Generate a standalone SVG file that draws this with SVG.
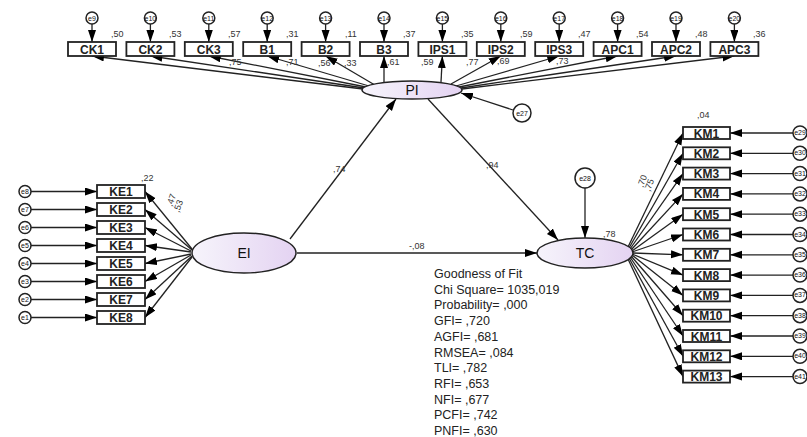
<svg xmlns="http://www.w3.org/2000/svg" width="807" height="437" viewBox="0 0 807 437">
<defs>
<marker id="ah" markerUnits="userSpaceOnUse" markerWidth="13" markerHeight="9" refX="12" refY="4" orient="auto">
<path d="M0,0 L12,4 L0,8 z" fill="#000"/>
</marker>
<linearGradient id="lg" x1="0" y1="0" x2="1" y2="0">
<stop offset="0" stop-color="#f6f4fb"/>
<stop offset="1" stop-color="#e4d3f2"/>
</linearGradient>
<style>
.box{fill:#fff;stroke:#222;stroke-width:1.8}
.lat{fill:url(#lg);stroke:#222;stroke-width:1.5}
.err{fill:#fff;stroke:#222;stroke-width:1.5}
.t{font-family:"Liberation Sans",Arial,sans-serif;font-size:12px;font-weight:bold;fill:#222;text-anchor:middle}
.lt{font-family:"Liberation Sans",Arial,sans-serif;font-size:14px;fill:#111;text-anchor:middle}
.e{font-family:"Liberation Sans",Arial,sans-serif;font-size:7px;fill:#111;text-anchor:middle}
.v{font-family:"Liberation Sans",Arial,sans-serif;font-size:9px;fill:#333}
.fit{font-family:"Liberation Sans",Arial,sans-serif;font-size:12.5px;fill:#222}
.c{stroke:#222;stroke-width:1.3;fill:none;marker-end:url(#ah)}
</style>
</defs>
<rect width="807" height="437" fill="#fff"/>

<g id="connectors">
<line class="c" x1="92" y1="24" x2="92" y2="42"/>
<line class="c" x1="150.4" y1="24" x2="150.4" y2="42"/>
<line class="c" x1="208.8" y1="24" x2="208.8" y2="42"/>
<line class="c" x1="267.2" y1="24" x2="267.2" y2="42"/>
<line class="c" x1="325.6" y1="24" x2="325.6" y2="42"/>
<line class="c" x1="384" y1="24" x2="384" y2="42"/>
<line class="c" x1="442.4" y1="24" x2="442.4" y2="42"/>
<line class="c" x1="500.8" y1="24" x2="500.8" y2="42"/>
<line class="c" x1="559.2" y1="24" x2="559.2" y2="42"/>
<line class="c" x1="617.6" y1="24" x2="617.6" y2="42"/>
<line class="c" x1="676" y1="24" x2="676" y2="42"/>
<line class="c" x1="734.4" y1="24" x2="734.4" y2="42"/>
<line class="c" x1="363" y1="89" x2="92" y2="56"/>
<line class="c" x1="364" y1="88" x2="150.4" y2="56"/>
<line class="c" x1="366" y1="87" x2="208.8" y2="56"/>
<line class="c" x1="369" y1="86" x2="267.2" y2="56"/>
<line class="c" x1="374" y1="84.5" x2="325.6" y2="56"/>
<line class="c" x1="384" y1="82.5" x2="384" y2="56"/>
<line class="c" x1="441" y1="82" x2="442.4" y2="56"/>
<line class="c" x1="451" y1="84" x2="500.8" y2="56"/>
<line class="c" x1="456" y1="86" x2="559.2" y2="56"/>
<line class="c" x1="459" y1="87" x2="617.6" y2="56"/>
<line class="c" x1="461" y1="88" x2="676" y2="56"/>
<line class="c" x1="462" y1="89" x2="734.4" y2="56"/>
<line class="c" x1="513" y1="110" x2="461" y2="93"/>
<line class="c" x1="31" y1="191.5" x2="97" y2="191.5"/>
<line class="c" x1="31" y1="209.5" x2="97" y2="209.5"/>
<line class="c" x1="31" y1="227.5" x2="97" y2="227.5"/>
<line class="c" x1="31" y1="245.5" x2="97" y2="245.5"/>
<line class="c" x1="31" y1="263.5" x2="97" y2="263.5"/>
<line class="c" x1="31" y1="281.5" x2="97" y2="281.5"/>
<line class="c" x1="31" y1="299.5" x2="97" y2="299.5"/>
<line class="c" x1="31" y1="317.5" x2="97" y2="317.5"/>
<line class="c" x1="192" y1="249" x2="145" y2="191.5"/>
<line class="c" x1="192" y1="250" x2="145" y2="209.5"/>
<line class="c" x1="191" y1="251" x2="145" y2="227.5"/>
<line class="c" x1="191" y1="252" x2="145" y2="245.5"/>
<line class="c" x1="191" y1="254" x2="145" y2="263.5"/>
<line class="c" x1="191" y1="255" x2="145" y2="281.5"/>
<line class="c" x1="192" y1="256" x2="145" y2="299.5"/>
<line class="c" x1="192" y1="257" x2="145" y2="317.5"/>
<line class="c" x1="290" y1="239" x2="396" y2="99"/>
<line class="c" x1="428" y1="99" x2="558" y2="240"/>
<line class="c" x1="297" y1="253" x2="537" y2="253"/>
<line class="c" x1="585" y1="188" x2="585" y2="238"/>
<line class="c" x1="628" y1="247" x2="683" y2="133"/>
<line class="c" x1="629" y1="248" x2="683" y2="153.3"/>
<line class="c" x1="630" y1="249" x2="683" y2="173.6"/>
<line class="c" x1="631" y1="250" x2="683" y2="193.9"/>
<line class="c" x1="632" y1="251" x2="683" y2="214.2"/>
<line class="c" x1="632" y1="252" x2="683" y2="234.5"/>
<line class="c" x1="633" y1="253" x2="683" y2="254.8"/>
<line class="c" x1="632" y1="254" x2="683" y2="275.1"/>
<line class="c" x1="632" y1="255" x2="683" y2="295.4"/>
<line class="c" x1="631" y1="256" x2="683" y2="315.7"/>
<line class="c" x1="630" y1="257" x2="683" y2="336"/>
<line class="c" x1="629" y1="258" x2="683" y2="356.3"/>
<line class="c" x1="628" y1="259" x2="683" y2="376.6"/>
<line class="c" x1="793" y1="133" x2="730" y2="133"/>
<line class="c" x1="793" y1="153.3" x2="730" y2="153.3"/>
<line class="c" x1="793" y1="173.6" x2="730" y2="173.6"/>
<line class="c" x1="793" y1="193.9" x2="730" y2="193.9"/>
<line class="c" x1="793" y1="214.2" x2="730" y2="214.2"/>
<line class="c" x1="793" y1="234.5" x2="730" y2="234.5"/>
<line class="c" x1="793" y1="254.8" x2="730" y2="254.8"/>
<line class="c" x1="793" y1="275.1" x2="730" y2="275.1"/>
<line class="c" x1="793" y1="295.4" x2="730" y2="295.4"/>
<line class="c" x1="793" y1="315.7" x2="730" y2="315.7"/>
<line class="c" x1="793" y1="336" x2="730" y2="336"/>
<line class="c" x1="793" y1="356.3" x2="730" y2="356.3"/>
<line class="c" x1="793" y1="376.6" x2="730" y2="376.6"/>
</g>

<g id="CK1"><rect class="box" x="68" y="42" width="48" height="14"/><text class="t" x="92" y="53.5">CK1</text></g>
<g id="CK2"><rect class="box" x="126.4" y="42" width="48" height="14"/><text class="t" x="150.4" y="53.5">CK2</text></g>
<g id="CK3"><rect class="box" x="184.8" y="42" width="48" height="14"/><text class="t" x="208.8" y="53.5">CK3</text></g>
<g id="B1"><rect class="box" x="243.2" y="42" width="48" height="14"/><text class="t" x="267.2" y="53.5">B1</text></g>
<g id="B2"><rect class="box" x="301.6" y="42" width="48" height="14"/><text class="t" x="325.6" y="53.5">B2</text></g>
<g id="B3"><rect class="box" x="360" y="42" width="48" height="14"/><text class="t" x="384" y="53.5">B3</text></g>
<g id="IPS1"><rect class="box" x="418.4" y="42" width="48" height="14"/><text class="t" x="442.4" y="53.5">IPS1</text></g>
<g id="IPS2"><rect class="box" x="476.8" y="42" width="48" height="14"/><text class="t" x="500.8" y="53.5">IPS2</text></g>
<g id="IPS3"><rect class="box" x="535.2" y="42" width="48" height="14"/><text class="t" x="559.2" y="53.5">IPS3</text></g>
<g id="APC1"><rect class="box" x="593.6" y="42" width="48" height="14"/><text class="t" x="617.6" y="53.5">APC1</text></g>
<g id="APC2"><rect class="box" x="652" y="42" width="48" height="14"/><text class="t" x="676" y="53.5">APC2</text></g>
<g id="APC3"><rect class="box" x="710.4" y="42" width="48" height="14"/><text class="t" x="734.4" y="53.5">APC3</text></g>

<g id="e9"><circle class="err" cx="92" cy="18" r="6"/><text class="e" x="92" y="20.5">e9</text></g>
<g id="e10"><circle class="err" cx="150.4" cy="18" r="6"/><text class="e" x="150.4" y="20.5">e10</text></g>
<g id="e11"><circle class="err" cx="208.8" cy="18" r="6"/><text class="e" x="208.8" y="20.5">e11</text></g>
<g id="e12"><circle class="err" cx="267.2" cy="18" r="6"/><text class="e" x="267.2" y="20.5">e12</text></g>
<g id="e13"><circle class="err" cx="325.6" cy="18" r="6"/><text class="e" x="325.6" y="20.5">e13</text></g>
<g id="e14"><circle class="err" cx="384" cy="18" r="6"/><text class="e" x="384" y="20.5">e14</text></g>
<g id="e15"><circle class="err" cx="442.4" cy="18" r="6"/><text class="e" x="442.4" y="20.5">e15</text></g>
<g id="e16"><circle class="err" cx="500.8" cy="18" r="6"/><text class="e" x="500.8" y="20.5">e16</text></g>
<g id="e17"><circle class="err" cx="559.2" cy="18" r="6"/><text class="e" x="559.2" y="20.5">e17</text></g>
<g id="e18"><circle class="err" cx="617.6" cy="18" r="6"/><text class="e" x="617.6" y="20.5">e18</text></g>
<g id="e19"><circle class="err" cx="676" cy="18" r="6"/><text class="e" x="676" y="20.5">e19</text></g>
<g id="e20"><circle class="err" cx="734.4" cy="18" r="6"/><text class="e" x="734.4" y="20.5">e20</text></g>

<g id="r2top" class="v">
<text x="111" y="37">,50</text><text x="169" y="37">,53</text><text x="228" y="37">,57</text>
<text x="286" y="37">,31</text><text x="345" y="37">,11</text><text x="403" y="37">,37</text>
<text x="461" y="37">,35</text><text x="520" y="37">,59</text><text x="578" y="37">,47</text>
<text x="636" y="37">,54</text><text x="695" y="37">,48</text><text x="753" y="37">,36</text>
</g>
<g id="loadtop" class="v" font-size="8">
<text x="229" y="65">,75</text><text x="286" y="65">,71</text><text x="318" y="66">,56</text>
<text x="344" y="66">,33</text><text x="387" y="65">,61</text><text x="421" y="65">,59</text>
<text x="466" y="65">,77</text><text x="497" y="64">,69</text><text x="556" y="64">,73</text>
</g>

<g id="PI"><ellipse class="lat" cx="412" cy="90" rx="50" ry="9"/><text class="lt" x="412" y="95">PI</text></g>
<g id="EI"><ellipse class="lat" cx="244" cy="253" rx="52" ry="20"/><text class="lt" x="244" y="258">EI</text></g>
<g id="TC"><ellipse class="lat" cx="585" cy="253" rx="48" ry="15"/><text class="lt" x="585" y="258">TC</text></g>

<g id="e27"><circle class="err" cx="522" cy="113" r="9"/><text class="e" x="522" y="115.5" font-size="8">e27</text></g>
<g id="e28"><circle class="err" cx="585" cy="178" r="10"/><text class="e" x="585" y="180.5" font-size="8">e28</text></g>

<g id="KE1"><rect class="box" x="97" y="185" width="48" height="13"/><text class="t" x="121" y="196">KE1</text></g>
<g id="KE2"><rect class="box" x="97" y="203" width="48" height="13"/><text class="t" x="121" y="214">KE2</text></g>
<g id="KE3"><rect class="box" x="97" y="221" width="48" height="13"/><text class="t" x="121" y="232">KE3</text></g>
<g id="KE4"><rect class="box" x="97" y="239" width="48" height="13"/><text class="t" x="121" y="250">KE4</text></g>
<g id="KE5"><rect class="box" x="97" y="257" width="48" height="13"/><text class="t" x="121" y="268">KE5</text></g>
<g id="KE6"><rect class="box" x="97" y="275" width="48" height="13"/><text class="t" x="121" y="286">KE6</text></g>
<g id="KE7"><rect class="box" x="97" y="293" width="48" height="13"/><text class="t" x="121" y="304">KE7</text></g>
<g id="KE8"><rect class="box" x="97" y="311" width="48" height="13"/><text class="t" x="121" y="322">KE8</text></g>

<g id="e8"><circle class="err" cx="25" cy="191.5" r="6"/><text class="e" x="25" y="194">e8</text></g>
<g id="e7"><circle class="err" cx="25" cy="209.5" r="6"/><text class="e" x="25" y="212">e7</text></g>
<g id="e6"><circle class="err" cx="25" cy="227.5" r="6"/><text class="e" x="25" y="230">e6</text></g>
<g id="e5"><circle class="err" cx="25" cy="245.5" r="6"/><text class="e" x="25" y="248">e5</text></g>
<g id="e4"><circle class="err" cx="25" cy="263.5" r="6"/><text class="e" x="25" y="266">e4</text></g>
<g id="e3"><circle class="err" cx="25" cy="281.5" r="6"/><text class="e" x="25" y="284">e3</text></g>
<g id="e2"><circle class="err" cx="25" cy="299.5" r="6"/><text class="e" x="25" y="302">e2</text></g>
<g id="e1"><circle class="err" cx="25" cy="317.5" r="6"/><text class="e" x="25" y="320">e1</text></g>

<g id="keLabels" class="v" font-size="8">
<text x="141" y="181">,22</text>
<text x="172" y="207" transform="rotate(-70 172 207)">,47</text>
<text x="179" y="213" transform="rotate(-70 179 213)">,53</text>
</g>

<g id="KM1"><rect class="box" x="683" y="127" width="47" height="12"/><text class="t" x="706.5" y="137.5">KM1</text></g>
<g id="KM2"><rect class="box" x="683" y="147.3" width="47" height="12"/><text class="t" x="706.5" y="157.8">KM2</text></g>
<g id="KM3"><rect class="box" x="683" y="167.6" width="47" height="12"/><text class="t" x="706.5" y="178.1">KM3</text></g>
<g id="KM4"><rect class="box" x="683" y="187.9" width="47" height="12"/><text class="t" x="706.5" y="198.4">KM4</text></g>
<g id="KM5"><rect class="box" x="683" y="208.2" width="47" height="12"/><text class="t" x="706.5" y="218.7">KM5</text></g>
<g id="KM6"><rect class="box" x="683" y="228.5" width="47" height="12"/><text class="t" x="706.5" y="239">KM6</text></g>
<g id="KM7"><rect class="box" x="683" y="248.8" width="47" height="12"/><text class="t" x="706.5" y="259.3">KM7</text></g>
<g id="KM8"><rect class="box" x="683" y="269.1" width="47" height="12"/><text class="t" x="706.5" y="279.6">KM8</text></g>
<g id="KM9"><rect class="box" x="683" y="289.4" width="47" height="12"/><text class="t" x="706.5" y="299.9">KM9</text></g>
<g id="KM10"><rect class="box" x="683" y="309.7" width="47" height="12"/><text class="t" x="706.5" y="320.2">KM10</text></g>
<g id="KM11"><rect class="box" x="683" y="330" width="47" height="12"/><text class="t" x="706.5" y="340.5">KM11</text></g>
<g id="KM12"><rect class="box" x="683" y="350.3" width="47" height="12"/><text class="t" x="706.5" y="360.8">KM12</text></g>
<g id="KM13"><rect class="box" x="683" y="370.6" width="47" height="12"/><text class="t" x="706.5" y="381.1">KM13</text></g>

<g id="e29"><circle class="err" cx="800" cy="133" r="7"/><text class="e" font-size="6" x="800" y="135">e29</text></g>
<g id="e30"><circle class="err" cx="800" cy="153.3" r="7"/><text class="e" font-size="6" x="800" y="155.3">e30</text></g>
<g id="e31"><circle class="err" cx="800" cy="173.6" r="7"/><text class="e" font-size="6" x="800" y="175.6">e31</text></g>
<g id="e32"><circle class="err" cx="800" cy="193.9" r="7"/><text class="e" font-size="6" x="800" y="195.9">e32</text></g>
<g id="e33"><circle class="err" cx="800" cy="214.2" r="7"/><text class="e" font-size="6" x="800" y="216.2">e33</text></g>
<g id="e34"><circle class="err" cx="800" cy="234.5" r="7"/><text class="e" font-size="6" x="800" y="236.5">e34</text></g>
<g id="e35"><circle class="err" cx="800" cy="254.8" r="7"/><text class="e" font-size="6" x="800" y="256.8">e35</text></g>
<g id="e36"><circle class="err" cx="800" cy="275.1" r="7"/><text class="e" font-size="6" x="800" y="277.1">e36</text></g>
<g id="e37"><circle class="err" cx="800" cy="295.4" r="7"/><text class="e" font-size="6" x="800" y="297.4">e37</text></g>
<g id="e38"><circle class="err" cx="800" cy="315.7" r="7"/><text class="e" font-size="6" x="800" y="317.7">e38</text></g>
<g id="e39"><circle class="err" cx="800" cy="336" r="7"/><text class="e" font-size="6" x="800" y="338">e39</text></g>
<g id="e40"><circle class="err" cx="800" cy="356.3" r="7"/><text class="e" font-size="6" x="800" y="358.3">e40</text></g>
<g id="e41"><circle class="err" cx="800" cy="376.6" r="7"/><text class="e" font-size="6" x="800" y="378.6">e41</text></g>

<g id="kmLabels" class="v" font-size="8">
<text x="697" y="118">,04</text>
<text x="603" y="237">,78</text>
<text x="643" y="188" transform="rotate(-70 643 188)">,70</text>
<text x="650" y="192" transform="rotate(-70 650 192)">,75</text>
</g>

<g id="pathLabels" class="v">
<text x="333" y="172">,74</text>
<text x="486" y="168">,94</text>
<text x="409" y="249">-,08</text>
</g>

<g id="fit" class="fit">
<text x="434" y="278">Goodness of Fit</text>
<text x="434" y="293.7">Chi Square= 1035,019</text>
<text x="434" y="309.4">Probability= ,000</text>
<text x="434" y="325.1">GFI= ,720</text>
<text x="434" y="340.8">AGFI= ,681</text>
<text x="434" y="356.5">RMSEA= ,084</text>
<text x="434" y="372.2">TLI= ,782</text>
<text x="434" y="387.9">RFI= ,653</text>
<text x="434" y="403.6">NFI= ,677</text>
<text x="434" y="419.3">PCFI= ,742</text>
<text x="434" y="435">PNFI= ,630</text>
</g>
</svg>
